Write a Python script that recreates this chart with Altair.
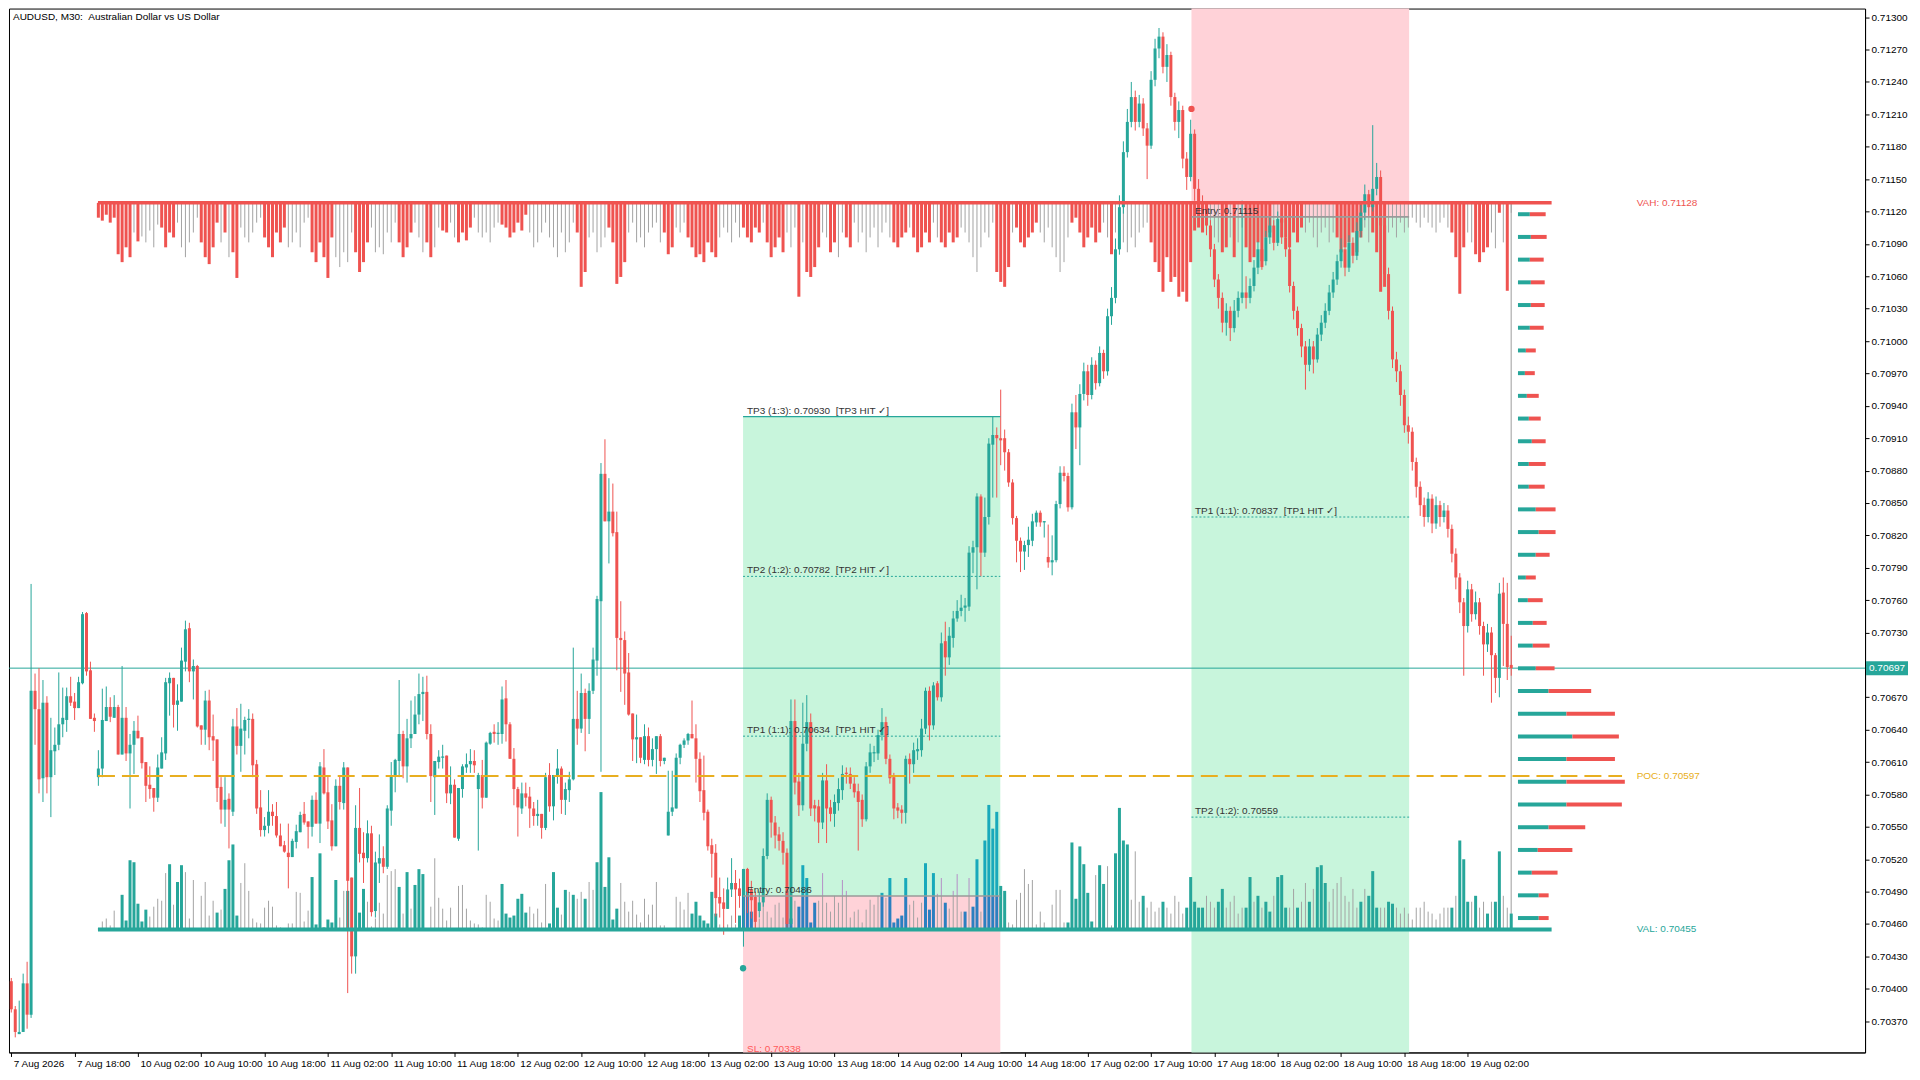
import altair as alt
import pandas as pd

TITLE = "AUDUSD, M30:  Australian Dollar vs US Dollar"

X_LABELS = ["7 Aug 2026", "7 Aug 18:00", "10 Aug 02:00", "10 Aug 10:00", "10 Aug 18:00",
            "11 Aug 02:00", "11 Aug 10:00", "11 Aug 18:00", "12 Aug 02:00", "12 Aug 10:00",
            "12 Aug 18:00", "13 Aug 02:00", "13 Aug 10:00", "13 Aug 18:00", "14 Aug 02:00",
            "14 Aug 10:00", "14 Aug 18:00", "17 Aug 02:00", "17 Aug 10:00", "17 Aug 18:00",
            "18 Aug 02:00", "18 Aug 10:00", "18 Aug 18:00", "19 Aug 02:00"]
X_TICK_STEP = 16  # bars between time labels (M30)

# Prices as points (1e-5) above 0.70000, one value per M30 bar
OPEN = [
    407, 381, 358, 360, 405, 376, 676, 659, 595, 665,
    596, 620, 626, 645, 649, 671, 666, 660, 683, 748,
    695, 651, 596, 604, 648, 661, 651, 661, 617, 651,
    618, 626, 639, 633, 610, 589, 586, 577, 604, 618,
    683, 688, 663, 666, 703, 734, 694, 699, 644, 640,
    667, 634, 631, 587, 566, 576, 564, 643, 625, 639,
    649, 650, 608, 568, 547, 551, 564, 560, 542, 533,
    526, 522, 536, 545, 562, 555, 550, 575, 553, 605,
    582, 556, 532, 588, 572, 605, 503, 430, 549, 526,
    521, 544, 472, 516, 521, 513, 565, 598, 611, 636,
    606, 632, 636, 654, 673, 675, 636, 596, 610, 614,
    616, 581, 589, 539, 585, 605, 608, 611, 585, 598,
    577, 627, 638, 636, 636, 669, 645, 613, 585, 567,
    581, 578, 567, 560, 562, 549, 598, 569, 597, 604,
    575, 584, 594, 650, 641, 674, 650, 676, 704, 759,
    877, 833, 842, 823, 725, 723, 693, 655, 631, 633,
    612, 634, 612, 622, 634, 611, 542, 564, 567, 614,
    626, 630, 636, 632, 613, 584, 564, 533, 526, 485,
    480, 474, 492, 498, 493, 485, 511, 492, 485, 472,
    480, 523, 575, 554, 543, 537, 526, 460, 648, 592,
    570, 627, 647, 570, 569, 554, 593, 568, 562, 572,
    584, 600, 599, 590, 583, 575, 557, 606, 618, 618,
    635, 647, 613, 596, 568, 566, 563, 613, 608, 620,
    621, 641, 676, 644, 683, 670, 722, 707, 725, 743,
    750, 753, 754, 804, 809, 856, 804, 837, 904, 913,
    910, 910, 897, 869, 836, 815, 805, 811, 815, 832,
    841, 832, 800, 795, 797, 849, 878, 875, 846, 934,
    920, 951, 972, 950, 978, 961, 989, 972, 1023, 1040,
    1085, 1124, 1175, 1203, 1226, 1203, 1220, 1197, 1181, 1242,
    1271, 1282, 1254, 1265, 1226, 1203, 1214, 1169, 1152, 1192,
    1141, 1124, 1119, 1107, 1085, 1057, 1040, 1017, 1028, 1012,
    1028, 1040, 1045, 1040, 1051, 1068, 1085, 1074, 1096, 1107,
    1091, 1113, 1096, 1085, 1051, 1028, 1012, 995, 978, 995,
    983, 1006, 1017, 1028, 1045, 1057, 1074, 1085, 1068, 1091,
    1079, 1102, 1119, 1136, 1124, 1141, 1152, 1107, 1062, 1028,
    983, 972, 950, 922, 916, 888, 865, 848, 837, 854,
    831, 848, 837, 843, 826, 803, 781, 758, 736, 770,
    747, 758, 736, 719, 730, 709, 688, 767, 738, 700,
]
HIGH = [
    410, 384, 389, 414, 425, 775, 692, 697, 686, 671,
    651, 642, 693, 679, 679, 689, 674, 689, 749, 749,
    703, 655, 621, 678, 680, 670, 672, 663, 699, 661,
    636, 648, 653, 633, 610, 606, 586, 617, 633, 688,
    693, 688, 682, 716, 741, 739, 705, 700, 644, 676,
    677, 654, 631, 596, 596, 581, 650, 660, 664, 652,
    659, 655, 612, 584, 559, 584, 571, 573, 553, 537,
    553, 539, 552, 564, 573, 555, 579, 582, 610, 622,
    598, 571, 594, 597, 610, 605, 503, 570, 586, 545,
    556, 551, 527, 543, 532, 570, 610, 613, 686, 639,
    650, 667, 671, 692, 689, 690, 645, 611, 621, 626,
    616, 606, 594, 586, 608, 618, 622, 621, 600, 612,
    629, 638, 645, 647, 680, 686, 647, 623, 587, 591,
    591, 587, 573, 575, 562, 600, 609, 598, 622, 606,
    591, 601, 716, 676, 692, 678, 683, 716, 764, 887,
    909, 873, 868, 842, 759, 731, 711, 655, 654, 633,
    645, 642, 632, 634, 636, 614, 602, 602, 618, 627,
    632, 637, 667, 645, 619, 616, 566, 539, 534, 503,
    493, 503, 521, 510, 502, 511, 512, 500, 490, 490,
    530, 581, 578, 560, 550, 545, 530, 668, 668, 600,
    665, 672, 655, 575, 575, 600, 608, 575, 580, 595,
    607, 605, 605, 596, 590, 580, 610, 627, 625, 640,
    660, 652, 617, 600, 572, 570, 616, 618, 628, 632,
    650, 679, 680, 684, 685, 730, 740, 735, 750, 760,
    765, 762, 810, 815, 859, 858, 855, 910, 930, 920,
    955, 918, 900, 872, 838, 818, 815, 828, 840, 843,
    843, 833, 830, 820, 852, 884, 884, 878, 942, 950,
    960, 980, 978, 985, 982, 995, 992, 1030, 1050, 1095,
    1135, 1185, 1215, 1240, 1232, 1228, 1225, 1202, 1250, 1280,
    1290, 1286, 1275, 1268, 1230, 1222, 1218, 1175, 1205, 1196,
    1150, 1135, 1125, 1112, 1090, 1062, 1045, 1035, 1032, 1038,
    1046, 1130, 1060, 1058, 1075, 1092, 1090, 1102, 1115, 1112,
    1120, 1118, 1100, 1088, 1055, 1032, 1016, 1000, 1002, 1000,
    1012, 1024, 1035, 1052, 1064, 1080, 1095, 1090, 1098, 1096,
    1110, 1126, 1145, 1140, 1200, 1165, 1158, 1112, 1068, 1032,
    990, 978, 955, 930, 920, 892, 870, 855, 860, 858,
    856, 852, 850, 848, 830, 808, 785, 762, 778, 775,
    768, 762, 740, 738, 735, 711, 776, 781, 776, 727,
]
LOW = [
    378, 355, 358, 360, 363, 373, 626, 581, 573, 581,
    559, 598, 621, 633, 638, 662, 649, 660, 682, 690,
    650, 638, 588, 596, 648, 647, 651, 617, 617, 611,
    567, 599, 632, 604, 573, 576, 564, 573, 604, 612,
    653, 642, 639, 666, 694, 684, 668, 642, 626, 626,
    621, 611, 573, 553, 550, 530, 560, 617, 601, 617,
    632, 596, 562, 541, 541, 544, 551, 540, 532, 526,
    493, 522, 530, 545, 552, 530, 541, 553, 535, 580,
    548, 528, 532, 566, 566, 396, 414, 414, 517, 498,
    517, 467, 466, 498, 507, 511, 551, 582, 596, 595,
    591, 623, 636, 645, 648, 631, 573, 561, 604, 604,
    572, 571, 540, 537, 577, 600, 600, 600, 528, 567,
    577, 626, 628, 626, 627, 629, 613, 570, 541, 562,
    569, 549, 551, 551, 539, 547, 564, 556, 590, 562,
    561, 573, 593, 626, 637, 620, 636, 673, 690, 601,
    833, 794, 819, 695, 675, 663, 653, 611, 609, 609,
    608, 606, 606, 599, 606, 608, 542, 560, 567, 608,
    623, 626, 632, 591, 573, 556, 528, 503, 467, 466,
    450, 474, 485, 461, 475, 439, 470, 465, 455, 466,
    476, 520, 540, 530, 528, 515, 455, 458, 580, 560,
    565, 620, 560, 555, 535, 548, 535, 555, 550, 565,
    575, 590, 585, 577, 528, 550, 555, 600, 610, 612,
    630, 608, 590, 557, 558, 553, 553, 590, 600, 612,
    615, 636, 630, 640, 667, 666, 690, 700, 716, 740,
    745, 740, 750, 785, 770, 782, 800, 830, 855, 855,
    885, 880, 865, 830, 795, 786, 788, 800, 810, 828,
    828, 818, 790, 783, 795, 845, 870, 842, 844, 900,
    885, 945, 940, 946, 955, 958, 965, 968, 1015, 1035,
    1080, 1118, 1170, 1198, 1195, 1198, 1190, 1150, 1178, 1236,
    1262, 1248, 1240, 1218, 1195, 1188, 1160, 1140, 1148, 1130,
    1118, 1108, 1098, 1078, 1050, 1030, 1008, 1005, 1000, 1008,
    1022, 1035, 1030, 1035, 1046, 1062, 1066, 1070, 1090, 1084,
    1088, 1090, 1078, 1045, 1020, 1005, 985, 955, 972, 970,
    980, 1000, 1012, 1024, 1040, 1052, 1068, 1060, 1064, 1072,
    1075, 1096, 1112, 1116, 1120, 1135, 1100, 1055, 1020, 975,
    962, 940, 915, 905, 880, 855, 838, 828, 832, 822,
    826, 828, 832, 818, 795, 770, 748, 690, 730, 740,
    742, 728, 690, 712, 665, 674, 670, 699, 686, 690,
]
CLOSE = [
    381, 360, 360, 405, 376, 676, 659, 594, 665, 596,
    621, 626, 645, 651, 671, 665, 660, 684, 747, 694,
    650, 648, 604, 649, 661, 652, 661, 617, 651, 618,
    626, 639, 632, 609, 588, 585, 577, 605, 619, 684,
    688, 663, 667, 704, 733, 694, 699, 643, 640, 667,
    633, 630, 586, 566, 575, 566, 643, 625, 641, 649,
    650, 607, 567, 547, 551, 564, 560, 542, 532, 527,
    522, 537, 546, 561, 554, 550, 575, 553, 606, 581,
    555, 532, 588, 573, 605, 500, 430, 549, 525, 521,
    544, 471, 517, 521, 513, 567, 598, 612, 636, 606,
    632, 636, 654, 673, 675, 636, 597, 611, 615, 614,
    581, 589, 540, 586, 606, 608, 611, 607, 598, 577,
    628, 637, 636, 637, 668, 645, 613, 585, 568, 581,
    577, 567, 560, 562, 549, 596, 569, 598, 604, 575,
    585, 594, 650, 641, 674, 650, 676, 705, 761, 877,
    833, 842, 822, 725, 723, 692, 654, 631, 633, 614,
    634, 612, 622, 634, 611, 614, 564, 568, 614, 626,
    630, 636, 632, 613, 583, 563, 532, 525, 484, 479,
    474, 492, 498, 492, 486, 511, 490, 482, 462, 480,
    523, 575, 554, 542, 537, 526, 460, 648, 591, 570,
    627, 647, 567, 567, 554, 593, 567, 562, 573, 585,
    599, 599, 590, 582, 573, 557, 606, 619, 619, 635,
    647, 613, 595, 567, 565, 563, 613, 608, 621, 622,
    641, 676, 644, 681, 670, 720, 707, 727, 743, 750,
    753, 755, 804, 809, 856, 804, 837, 905, 913, 910,
    908, 897, 869, 836, 815, 805, 811, 816, 833, 841,
    832, 832, 795, 797, 849, 878, 875, 846, 934, 920,
    951, 972, 950, 978, 961, 989, 972, 1023, 1040, 1085,
    1124, 1175, 1203, 1226, 1203, 1220, 1197, 1181, 1242, 1271,
    1282, 1254, 1265, 1226, 1203, 1214, 1169, 1152, 1192, 1141,
    1124, 1119, 1107, 1085, 1057, 1040, 1017, 1028, 1012, 1028,
    1040, 1045, 1040, 1051, 1068, 1085, 1074, 1096, 1107, 1091,
    1113, 1096, 1085, 1051, 1028, 1012, 995, 978, 995, 983,
    1006, 1017, 1028, 1045, 1057, 1074, 1085, 1068, 1091, 1079,
    1102, 1119, 1136, 1124, 1141, 1152, 1107, 1062, 1028, 983,
    972, 950, 922, 916, 888, 865, 848, 837, 854, 831,
    848, 837, 843, 826, 803, 781, 758, 736, 770, 747,
    758, 736, 719, 730, 709, 688, 766, 738, 698, 697,
]

# Volume histograms (indicator units); kind: t = strong buy, r = strong sell, g = weak, - = none
BUY_VOL = [
    0, 0, 0, 0, 0, 0, 0, 0, 0, 0,
    0, 0, 0, 0, 0, 0, 0, 0, 0, 0,
    0, 0, 1, 8, 11, 4, 19, 1, 35, 9,
    70, 68, 26, 8, 20, 13, 23, 31, 29, 57,
    66, 25, 48, 65, 58, 11, 50, 1, 34, 48,
    14, 29, 17, 20, 41, 70, 86, 14, 47, 67,
    39, 11, 7, 6, 22, 29, 23, 4, 2, 1,
    6, 6, 38, 37, 8, 19, 53, 5, 77, 2,
    10, 7, 50, 12, 39, 39, 3, 3, 17, 41,
    28, 3, 11, 27, 16, 55, 59, 61, 43, 16,
    58, 21, 45, 61, 56, 1, 23, 72, 32, 21,
    9, 22, 1, 44, 45, 21, 9, 6, 5, 2,
    35, 28, 11, 9, 46, 16, 12, 14, 31, 36,
    17, 23, 16, 21, 7, 46, 6, 58, 22, 15,
    40, 38, 35, 31, 38, 31, 48, 40, 68, 139,
    43, 73, 10, 21, 47, 28, 18, 29, 15, 7,
    31, 15, 25, 48, 4, 4, 1, 1, 33, 28,
    20, 37, 16, 28, 14, 9, 6, 38, 16, 5,
    3, 5, 14, 5, 14, 60, 39, 18, 21, 11,
    37, 18, 12, 25, 27, 12, 39, 11, 29, 23,
    65, 52, 7, 27, 29, 57, 27, 18, 34, 27,
    50, 39, 12, 18, 20, 7, 20, 30, 25, 34,
    37, 32, 52, 7, 11, 14, 52, 25, 29, 12,
    27, 67, 20, 57, 36, 52, 27, 21, 39, 56,
    18, 18, 52, 23, 71, 18, 90, 126, 102, 119,
    44, 39, 7, 5, 30, 37, 61, 46, 50, 5,
    18, 7, 1, 25, 40, 40, 7, 7, 88, 31,
    84, 66, 37, 8, 55, 65, 46, 64, 4, 77,
    123, 90, 86, 30, 79, 28, 34, 22, 28, 18,
    22, 28, 22, 16, 34, 28, 16, 22, 53, 28,
    22, 22, 34, 28, 22, 28, 41, 22, 28, 34,
    16, 22, 22, 53, 28, 34, 22, 28, 18, 34,
    53, 55, 22, 22, 41, 22, 28, 47, 28, 41,
    63, 65, 47, 28, 41, 47, 53, 34, 28, 41,
    22, 28, 41, 34, 59, 22, 22, 22, 28, 26,
    22, 16, 22, 16, 10, 22, 22, 28, 18, 16,
    10, 16, 22, 22, 22, 34, 90, 71, 28, 28,
    34, 22, 28, 16, 28, 28, 79, 34, 22, 16,
]
BUY_KIND = "".join([
    "----------", "----------", "--ggggggtt", "tttttggggg", "tgttgggggg",
    "ggtgttttgg", "gggggggggg", "ggggggtttt", "tttggtggtt", "ggggggggtg",
    "tgtttggggg", "gggggggggg", "ggggtttttt", "tgggggtttg", "tgtggtggtt",
    "ttttgggggg", "gggggggggg", "ggtttttttg", "ggggttttgg", "ggggggttgt",
    "ttttgggggg", "gggggggggg", "tgtttttggg", "gtttggtggg", "gtgttgtttt",
    "ttgggggggg", "gggggggttt", "ttttgttggt", "tttgggtggg", "gtgggggttt",
    "ttgggttggg", "ggttgtgttg", "tttggtggtg", "tttggggggg", "gtgtttggtt",
    "gggggggggg", "ggggtgtttg", "tggtgttggt",
])
SELL_VOL = [
    0, 0, 0, 0, 0, 0, 0, 0, 0, 0,
    0, 0, 0, 0, 0, 0, 0, 0, 0, 0,
    0, 0, 15, 18, 12, 20, 15, 52, 60, 45,
    55, 30, 39, 34, 40, 28, 45, 22, 25, 45,
    30, 35, 20, 45, 55, 40, 30, 15, 40, 55,
    62, 45, 20, 40, 30, 55, 50, 76, 25, 35,
    40, 30, 20, 15, 35, 45, 55, 30, 40, 25,
    45, 40, 30, 45, 20, 15, 50, 60, 40, 55,
    76, 35, 55, 65, 50, 60, 30, 50, 70, 60,
    40, 25, 50, 45, 52, 30, 40, 20, 40, 55,
    45, 30, 20, 35, 50, 40, 55, 45, 25, 28,
    30, 20, 35, 40, 30, 38, 25, 15, 30, 35,
    30, 40, 25, 20, 22, 25, 35, 30, 20, 28,
    12, 30, 45, 40, 30, 20, 35, 45, 55, 30,
    50, 40, 20, 30, 85, 70, 35, 30, 50, 45,
    35, 25, 40, 82, 75, 60, 30, 20, 40, 35,
    45, 30, 25, 20, 40, 30, 52, 45, 25, 30,
    20, 35, 45, 55, 52, 60, 40, 50, 55, 35,
    25, 30, 40, 20, 35, 25, 35, 40, 25, 30,
    20, 40, 55, 45, 35, 50, 30, 45, 25, 95,
    40, 70, 75, 65, 45, 30, 35, 50, 40, 55,
    30, 35, 45, 20, 40, 30, 50, 35, 25, 45,
    30, 20, 35, 40, 45, 35, 30, 25, 35, 50,
    45, 30, 40, 20, 35, 40, 45, 30, 40, 35,
    25, 30, 40, 55, 70, 45, 30, 35, 20, 70,
    80, 85, 65, 30, 25, 40, 45, 35, 30, 20,
    30, 40, 25, 45, 55, 70, 60, 35, 20, 15,
    30, 45, 35, 25, 40, 30, 20, 35, 52, 30,
    25, 40, 50, 35, 45, 30, 25, 20, 40, 60,
    70, 90, 55, 80, 75, 95, 90, 100, 60, 28,
    25, 30, 20, 30, 35, 40, 50, 45, 35, 55,
    40, 25, 45, 60, 55, 40, 65, 35, 30, 25,
    35, 20, 35, 45, 30, 40, 25, 30, 20, 35,
    45, 30, 25, 40, 30, 35, 50, 45, 40, 30,
    50, 35, 25, 40, 30, 50, 90, 85, 30, 25,
    35, 20, 30, 25, 15, 20, 25, 15, 20, 25,
    30, 20, 15, 25, 30, 55, 92, 45, 30, 40,
    52, 60, 50, 45, 30, 46, 10, 40, 89, 10,
]
SELL_KIND = "".join([
    "----------", "----------", "--rrrrrrrr", "rgrgggggrr", "rrggggggrr",
    "rrrgrgrrgg", "ggggrrrrrr", "ggggggrrrr", "rrgggggrrr", "rgggggggrr",
    "rrgggrrggr", "rggrrrrggg", "ggggrrrrrr", "rggggggggg", "gggrrrgggg",
    "grrrrrgggg", "gggggrrrgg", "grrrrrrrrg", "gggggrrrrr", "grrrrrgggr",
    "grrrrggrrg", "grrggggggg", "gggrrrrgrr", "rrrggrrrrr", "gggggggggr",
    "rrrgrrrrrr", "ggggggggrr", "rrrrrrggrg", "ggggggggrr", "rrrrrrrrrr",
    "rrrgggrrgr", "ggrrrrrrrg", "grrrrrrggg", "gggggrrrrr", "rrggrrrrgg",
    "gggggggggg", "ggggrrrrgg", "rrrrggrgrg",
])

# Volume profile between VAH and VAL, 32 rows from top to bottom
PROFILE_BUY = [12, 13, 12, 13, 13, 12, 8, 7, 9, 11, 14, 11, 11, 18, 21, 18,
               8, 10, 15, 15, 18, 31, 49, 55, 49, 49, 49, 31, 20, 14, 21, 21]
PROFILE_TOTAL = [28, 29, 26, 27, 27, 26, 18, 17, 21, 23, 28, 28, 27, 38, 38, 32,
                 18, 25, 29, 32, 37, 74, 98, 102, 98, 108, 105, 68, 55, 40, 31, 31]

LAST = 0.70697
VAH, POC, VAL = 0.71128, 0.70597, 0.70455
L_ENTRY, L_SL, L_TP1, L_TP2, L_TP3 = 0.70486, 0.70338, 0.70634, 0.70782, 0.70930
S_ENTRY, S_SL, S_TP1, S_TP2, S_TP3 = 0.71115, 0.71393, 0.70837, 0.70559, 0.70281
L_SIGNAL = 0.70419
S_SIGNAL = 0.71215

# ---------------- layout / style ----------------
W, H = 1858, 1045
X_MIN, X_MAX = -0.58, 468.4
Y_MIN, Y_MAX = 0.70341, 0.71308
L_X0, L_X1 = 184.9, 249.9
S_X0, S_X1 = 298.2, 353.2
VOL_X0, VOL_X1, POC_X1 = 21.9, 389.2, 407.0
CUR_BAR = 379
PROF_X0, PROF_SCALE = 380.7, 0.25
VOL_SCALE = 0.00000915
RIGHT_LABEL_X = 410.7

FONT = "Liberation Sans"
TEAL = "#26a69a"
RED = "#ef5350"
GRAY = "#a3a3a3"
BLUE = "#2b7fc0"
CYAN = "#18a9bb"
PURPLE = "#b48fc6"
GREEN_BG = "#c8f5dc"
PINK_BG = "#ffd2d8"
ORANGE = "#e8ae20"
TXT = "#333333"
SP2 = " \u00a0"  # double space that survives SVG whitespace collapsing


def pr(v):
    return 0.70 + v / 100000.0


XS = alt.Scale(domain=[X_MIN, X_MAX], nice=False, zero=False)
YS = alt.Scale(domain=[Y_MIN, Y_MAX], nice=False, zero=False)
label_expr = "[" + ",".join("'%s'" % s for s in X_LABELS) + "][round(datum.value/%d)]" % X_TICK_STEP
XAXIS = alt.Axis(values=[X_TICK_STEP * k for k in range(len(X_LABELS))], labelExpr=label_expr,
                 orient="bottom", grid=False, tickSize=4, tickColor="black", domainColor="black",
                 labelColor="black", labelFont=FONT, labelFontSize=10, labelAlign="left",
                 labelPadding=2, labelOffset=2, labelOverlap=False, labelFlush=False, labelBound=False)
YAXIS = alt.Axis(values=[round(0.70370 + 0.0003 * k, 5) for k in range(32)], format=".5f",
                 orient="right", grid=False, tickSize=4, tickColor="black", domainColor="black",
                 labelColor="black", labelFont=FONT, labelFontSize=10, labelAlign="left",
                 labelPadding=2, labelOverlap=False, labelFlush=False)


def X(f):
    return alt.X(f, type="quantitative", scale=XS, axis=XAXIS, title=None)


def Y(f):
    return alt.Y(f, type="quantitative", scale=YS, axis=YAXIS, title=None)


# ---------------- candles ----------------
n = min(len(OPEN), len(HIGH), len(LOW), len(CLOSE))
crec = []
for i in range(n):
    o, h, l, c = pr(OPEN[i]), pr(HIGH[i]), pr(LOW[i]), pr(CLOSE[i])
    h = max(h, o, c)
    l = min(l, o, c)
    bt, bb = max(o, c), min(o, c)
    if bt - bb < 0.000012:
        bt = bb + 0.000012
    crec.append(dict(i=i, h=h, l=l, bt=bt, bb=bb, col=TEAL if c >= o else RED))
candles = pd.DataFrame(crec)

# ---------------- volume histograms ----------------
brec = []
for i, (v, k) in enumerate(zip(BUY_VOL, BUY_KIND)):
    if k == "-" or v <= 0:
        continue
    thick = k == "t"
    top = VAL + v * VOL_SCALE
    if L_X0 <= i <= L_X1:
        brec.append(dict(i=i, y0=VAL, y1=min(top, L_ENTRY), col=BLUE if thick else GRAY, thick=thick))
        if top > L_ENTRY:
            brec.append(dict(i=i, y0=L_ENTRY, y1=top, col=CYAN if thick else PURPLE, thick=thick))
    else:
        brec.append(dict(i=i, y0=VAL, y1=top, col=TEAL if thick else GRAY, thick=thick))
buy = pd.DataFrame(brec)

srec = []
for i, (v, k) in enumerate(zip(SELL_VOL, SELL_KIND)):
    if k == "-" or v <= 0:
        continue
    srec.append(dict(i=i, y0=VAH, y1=VAH - v * VOL_SCALE, col=RED if k == "r" else GRAY, thick=k == "r"))
sell = pd.DataFrame(srec)

# ---------------- profile ----------------
step = (VAH - VAL) / len(PROFILE_BUY)
prec = []
for k, (b, t) in enumerate(zip(PROFILE_BUY, PROFILE_TOTAL)):
    yc = VAH - (k + 0.5) * step
    prec.append(dict(y=yc, x0=PROF_X0, x1=PROF_X0 + b * PROF_SCALE, col=TEAL))
    prec.append(dict(y=yc, x0=PROF_X0 + b * PROF_SCALE, x1=PROF_X0 + t * PROF_SCALE, col=RED))
profile = pd.DataFrame(prec)

# ---------------- trade objects ----------------
boxes = pd.DataFrame([
    dict(x0=L_X0, x1=L_X1, y0=L_ENTRY, y1=L_TP3, col=GREEN_BG),
    dict(x0=L_X0, x1=L_X1, y0=L_SL, y1=L_ENTRY, col=PINK_BG),
    dict(x0=S_X0, x1=S_X1, y0=S_ENTRY, y1=S_SL, col=PINK_BG),
    dict(x0=S_X0, x1=S_X1, y0=S_TP3, y1=S_ENTRY, col=GREEN_BG),
])
solid = pd.DataFrame([
    dict(x0=L_X0, x1=L_X1, y=L_TP3, col=TEAL, w=1.2),
    dict(x0=L_X0, x1=L_X1, y=L_ENTRY, col="#9a9a9a", w=1.6),
    dict(x0=S_X0, x1=S_X1, y=S_ENTRY, col="#9a9a9a", w=1.6),
    dict(x0=VOL_X0, x1=VOL_X1, y=VAH, col=RED, w=3.5),
    dict(x0=VOL_X0, x1=VOL_X1, y=VAL, col=TEAL, w=4),
])
dotted = pd.DataFrame([
    dict(x0=L_X0, x1=L_X1, y=L_TP1),
    dict(x0=L_X0, x1=L_X1, y=L_TP2),
    dict(x0=S_X0, x1=S_X1, y=S_TP1),
    dict(x0=S_X0, x1=S_X1, y=S_TP2),
])
poc = pd.DataFrame([dict(x0=VOL_X0, x1=POC_X1, y=POC)])
markers = pd.DataFrame([dict(x=L_X0, y=L_SIGNAL, col=TEAL), dict(x=S_X0, y=S_SIGNAL, col=RED)])

LTX, STX = L_X0 + 1.0, S_X0 + 0.9
tlabels = pd.DataFrame([
    dict(x=LTX, y=L_TP3, t="TP3 (1:3): %.5f%s[TP3 HIT ✓]" % (L_TP3, SP2)),
    dict(x=LTX, y=L_TP2, t="TP2 (1:2): %.5f%s[TP2 HIT ✓]" % (L_TP2, SP2)),
    dict(x=LTX, y=L_TP1, t="TP1 (1:1): %.5f%s[TP1 HIT ✓]" % (L_TP1, SP2)),
    dict(x=LTX, y=L_ENTRY, t="Entry: %.5f" % L_ENTRY),
    dict(x=STX, y=S_ENTRY, t="Entry: %.5f" % S_ENTRY),
    dict(x=STX, y=S_TP1, t="TP1 (1:1): %.5f%s[TP1 HIT ✓]" % (S_TP1, SP2)),
    dict(x=STX, y=S_TP2, t="TP2 (1:2): %.5f" % S_TP2),
])
sl_label = pd.DataFrame([dict(x=LTX, y=L_SL, t="SL: %.5f" % L_SL)])
rlabels = pd.DataFrame([
    dict(x=RIGHT_LABEL_X, y=VAH, t="VAH: %.5f" % VAH, col=RED),
    dict(x=RIGHT_LABEL_X, y=POC, t="POC: %.5f" % POC, col=ORANGE),
    dict(x=RIGHT_LABEL_X, y=VAL, t="VAL: %.5f" % VAL, col=TEAL),
])
half_tag = 7 * (Y_MAX - Y_MIN) / H
tag = pd.DataFrame([dict(y=LAST, t=LAST + half_tag, b=LAST - half_tag, s="%.5f" % LAST)])
title_df = pd.DataFrame([dict(s=TITLE.replace("  ", SP2))])
vline = pd.DataFrame([dict(x=CUR_BAR, y0=VAL, y1=VAH)])

C = alt.Color("col:N", scale=None)

layers = [
    alt.Chart(boxes).mark_rect(clip=True).encode(x=X("x0"), x2="x1", y=Y("y0"), y2="y1", color=C),
    alt.Chart(tag).mark_rule(color=TEAL, strokeWidth=1).encode(x=alt.value(0), x2=alt.value(W), y=Y("y")),
    alt.Chart(vline).mark_rule(color="#bdbdbd", strokeWidth=1.5).encode(x=X("x"), y=Y("y0"), y2="y1"),
    alt.Chart(sell[~sell.thick]).mark_rule(strokeWidth=1).encode(x=X("i"), y=Y("y0"), y2="y1", color=C),
    alt.Chart(sell[sell.thick]).mark_rule(strokeWidth=3).encode(x=X("i"), y=Y("y0"), y2="y1", color=C),
    alt.Chart(buy[~buy.thick]).mark_rule(strokeWidth=1).encode(x=X("i"), y=Y("y0"), y2="y1", color=C),
    alt.Chart(buy[buy.thick]).mark_rule(strokeWidth=3).encode(x=X("i"), y=Y("y0"), y2="y1", color=C),
    alt.Chart(candles).mark_rule(strokeWidth=1).encode(x=X("i"), y=Y("l"), y2="h", color=C),
    alt.Chart(candles).mark_rule(strokeWidth=3).encode(x=X("i"), y=Y("bb"), y2="bt", color=C),
    alt.Chart(solid).mark_rule().encode(x=X("x0"), x2="x1", y=Y("y"), color=C,
                                        strokeWidth=alt.StrokeWidth("w:Q", scale=None)),
    alt.Chart(dotted).mark_rule(color=TEAL, strokeWidth=1, strokeDash=[2, 2]).encode(x=X("x0"), x2="x1", y=Y("y")),
    alt.Chart(poc).mark_rule(color=ORANGE, strokeWidth=2, strokeDash=[17, 7]).encode(x=X("x0"), x2="x1", y=Y("y")),
    alt.Chart(profile).mark_rule(strokeWidth=4).encode(x=X("x0"), x2="x1", y=Y("y"), color=C),
    alt.Chart(markers).mark_circle(size=40, opacity=1).encode(x=X("x"), y=Y("y"), color=C),
    alt.Chart(tlabels).mark_text(align="left", baseline="alphabetic", dy=-3, font=FONT, fontSize=10,
                                 color=TXT).encode(x=X("x"), y=Y("y"), text="t:N"),
    alt.Chart(sl_label).mark_text(align="left", baseline="alphabetic", dy=-4, font=FONT, fontSize=10,
                                  color="#ff5a5a", clip=True).encode(x=X("x"), y=Y("y"), text="t:N"),
    alt.Chart(rlabels).mark_text(align="left", baseline="middle", font=FONT, fontSize=10).encode(
        x=X("x"), y=Y("y"), text="t:N", color=C),
    alt.Chart(title_df).mark_text(align="left", baseline="top", font=FONT, fontSize=10, color="black").encode(
        x=alt.value(4), y=alt.value(3), text="s:N"),
    alt.Chart(tag).mark_rect(color=TEAL).encode(x=alt.value(W + 1), x2=alt.value(W + 43), y=Y("t"), y2="b"),
    alt.Chart(tag).mark_text(align="left", baseline="middle", font=FONT, fontSize=10, color="white").encode(
        x=alt.value(W + 4), y=Y("y"), text="s:N"),
]

chart = (
    alt.layer(*layers)
    .properties(width=W, height=H, padding={"left": 0, "top": 0, "right": 4, "bottom": 2})
    .configure(background="white")
    .configure_view(stroke="black", strokeWidth=1)
)

chart.save("out.html", embed_options={"renderer": "svg", "actions": False})
